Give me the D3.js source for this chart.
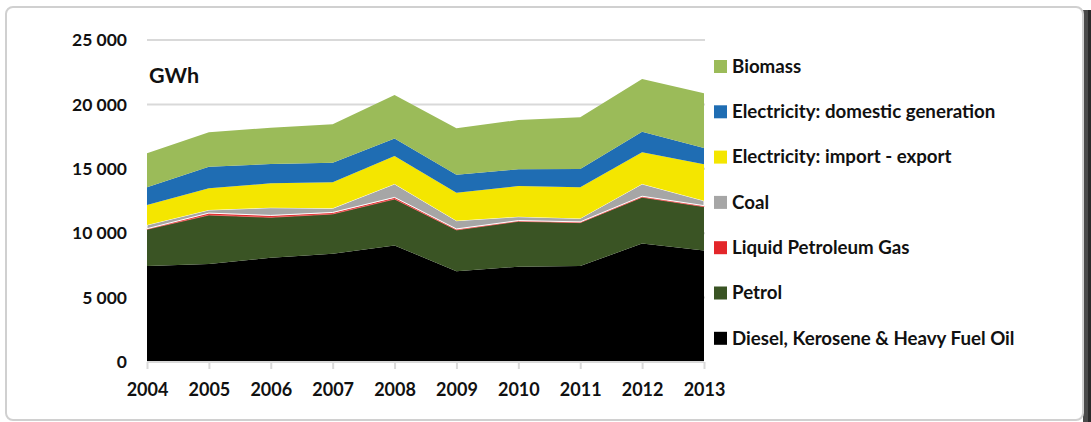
<!DOCTYPE html>
<html>
<head>
<meta charset="utf-8">
<script src="https://cdn.jsdelivr.net/npm/d3@7"></script>
<style>
  html, body { margin: 0; padding: 0; background: #fff; }
  svg { display: block; }
  text { font-family: Lato, "Open Sans", sans-serif; font-weight: 700; fill: #111; }
</style>
</head>
<body>
<svg id="chart" width="1091" height="422"></svg>
<script>
// ---- data (GWh) ----
const years = [2004, 2005, 2006, 2007, 2008, 2009, 2010, 2011, 2012, 2013];
const diesel   = [7450, 7600, 8100, 8400, 9050, 7050, 7400, 7450, 9200, 8650];
const petrol   = [2850, 3810, 3130, 3090, 3600, 3200, 3520, 3370, 3590, 3410];
const lpg      = [50, 150, 150, 120, 130, 80, 60, 60, 80, 80];
const coal     = [290, 240, 600, 320, 1040, 640, 300, 270, 950, 380];
const importExport = [1550, 1690, 1890, 2020, 2170, 2180, 2380, 2410, 2460, 2830];
const domestic = [1370, 1670, 1500, 1520, 1370, 1390, 1300, 1420, 1600, 1260];
const biomass  = [2640, 2670, 2820, 2980, 3370, 3600, 3830, 4020, 4090, 4250];
const seriesNames = ["Diesel, Kerosene & Heavy Fuel Oil", "Petrol", "Liquid Petroleum Gas", "Coal",
  "Electricity: import - export", "Electricity: domestic generation", "Biomass"];
const seriesValues = [diesel, petrol, lpg, coal, importExport, domestic, biomass];
const colors = ["#000000", "#3a5424", "#e3262a", "#a6a6a6", "#f4e600", "#1f6db3", "#9bbb59"];
const yTicks = [0, 5000, 10000, 15000, 20000, 25000];
const unitLabel = "GWh";

// ---- build table ----
const table = years.map((y, i) => {
  const row = { year: y };
  seriesNames.forEach((n, k) => row[n] = seriesValues[k][i]);
  return row;
});

const svg = d3.select("#chart");

// frame
svg.append("rect").attr("x", 1083).attr("y", 10).attr("width", 8).attr("height", 412)
  .attr("fill", "#4a4a4a");
svg.append("rect").attr("x", 1088).attr("y", 10).attr("width", 3).attr("height", 412)
  .attr("fill", "#2a2a2a");
svg.append("rect").attr("x", 6).attr("y", 7).attr("width", 1077).attr("height", 413)
  .attr("rx", 7).attr("ry", 7).attr("fill", "#fff").attr("stroke", "#d0d0d0").attr("stroke-width", 2);

const x = d3.scalePoint().domain(years).range([147, 704]);
const y = d3.scaleLinear().domain([0, 25000]).range([362, 40]);

// gridlines
svg.append("g").selectAll("line").data(yTicks.filter(t => t > 0)).join("line")
  .attr("x1", 147).attr("x2", 705)
  .attr("y1", d => y(d)).attr("y2", d => y(d))
  .attr("stroke", "#d9d9d9").attr("stroke-width", 2);

// stack
const stack = d3.stack().keys(seriesNames);
const layers = stack(table);
const area = d3.area()
  .x(d => x(d.data.year))
  .y0(d => y(d[0]))
  .y1(d => y(d[1]));

svg.append("g").selectAll("path").data(layers).join("path")
  .attr("d", area)
  .attr("fill", (d, i) => colors[i])
  .attr("stroke", (d, i) => i === 3 ? "#ffffff" : (i === 2 ? "#f26a6a" : "none"))
  .attr("stroke-width", (d, i) => i === 3 ? 1 : (i === 2 ? 0.8 : 0));

// x axis
const xAxis = d3.axisBottom(x).tickSize(7).tickPadding(14);
const gx = svg.append("g").attr("transform", "translate(0,362)").call(xAxis);
gx.select(".domain").attr("stroke", "#d9d9d9").attr("stroke-width", 2)
  .attr("d", "M147,0H704");
gx.selectAll(".tick line").attr("stroke", "#d9d9d9").attr("stroke-width", 2);
gx.selectAll(".tick text").attr("font-size", 18).attr("font-family", "Lato, sans-serif")
  .attr("font-weight", 700).attr("fill", "#111").attr("dy", "0.72em");

// y axis labels
const fmt = d => d === 0 ? "0" : d3.format(",")(d).replace(",", " ");
const yAxis = d3.axisLeft(y).tickValues(yTicks).tickSize(0).tickPadding(0).tickFormat(fmt);
const gy = svg.append("g").attr("transform", "translate(127,0)").call(yAxis);
gy.select(".domain").remove();
gy.selectAll(".tick text").attr("font-size", 17.5).attr("font-family", "Lato, sans-serif")
  .attr("font-weight", 700).attr("fill", "#111");

// unit label
svg.append("text").attr("x", 149).attr("y", 83).attr("font-size", 21.5).text(unitLabel);

// legend (top = Biomass)
const legendOrder = seriesNames.map((n, i) => ({ name: n, color: colors[i] })).reverse();
const lg = svg.append("g").selectAll("g").data(legendOrder).join("g")
  .attr("transform", (d, i) => `translate(714, ${66 + i * 45.3})`);
lg.append("rect").attr("x", 0).attr("y", -6).attr("width", 13).attr("height", 13)
  .attr("fill", d => d.color);
lg.append("text").attr("x", 18).attr("y", 0).attr("dy", "0.36em")
  .attr("font-size", 18.7).text(d => d.name);
</script>
</body>
</html>
